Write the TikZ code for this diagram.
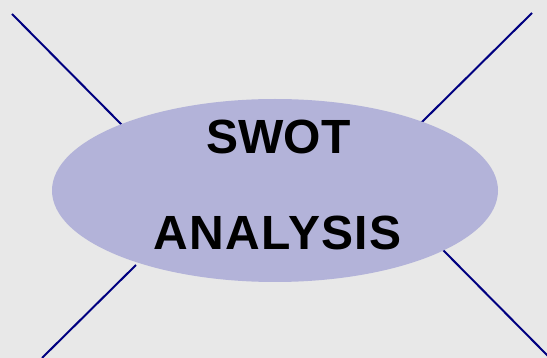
\documentclass[tikz,border=0pt]{standalone}
\usepackage{fontspec}
\setmainfont{Liberation Sans}
\definecolor{bggray}{HTML}{E8E8E8}
\definecolor{ovalfill}{HTML}{B3B3D9}
\definecolor{rayblue}{HTML}{000080}
\tikzset{
  ray/.style={draw=rayblue, line width=2pt},
  title/.style={font=\bfseries\fontsize{48}{48}\selectfont, text=black, inner sep=0pt, anchor=base}
}
\begin{document}
\begin{tikzpicture}[x=1pt, y=-1pt]
  \fill[bggray] (0,0) rectangle (547,358);
  \useasboundingbox (0,0) rectangle (547,358);
  % free ends of the four rays
  \coordinate (tl) at (12,14);
  \coordinate (tr) at (532,13);
  \coordinate (bl) at (42,358);
  \coordinate (br) at (548,356);
  % points where the rays meet the oval
  \coordinate (tlin) at (122,125);
  \coordinate (trin) at (421,123);
  \coordinate (blin) at (136,265);
  \coordinate (brin) at (442,249);
  \draw[ray] (tl) -- (tlin);
  \draw[ray] (tr) -- (trin);
  \draw[ray] (bl) -- (blin);
  \draw[ray] (br) -- (brin);
  % central oval
  \fill[ovalfill] (275,190.5) ellipse [x radius=223, y radius=91.5];
  \node[title] (swot) at (278.5,154) {SWOT};
  \node[title] (analysis) at (277.5,250) {\addfontfeatures{LetterSpace=3}ANALYSIS};
\end{tikzpicture}
\end{document}
